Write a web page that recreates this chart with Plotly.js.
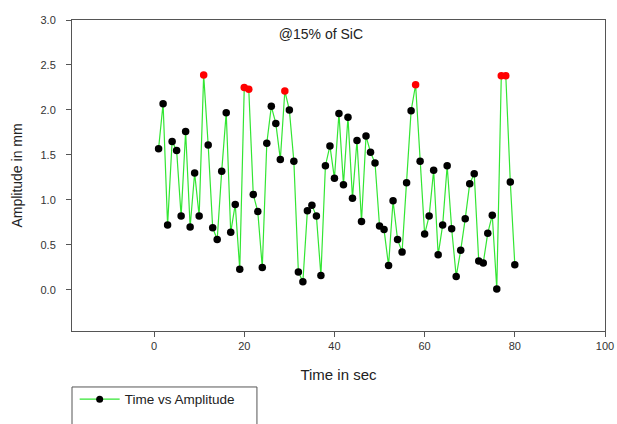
<!DOCTYPE html>
<html>
<head>
<meta charset="utf-8">
<script src="https://cdn.plot.ly/plotly-3.0.1.min.js"></script>
<style>html,body{margin:0;padding:0;background:#fff;}#chart{width:617px;height:424px;}</style>
</head>
<body>
<div id="chart"></div>
<script>
const timeSec = [1,2,3,4,5,6,7,8,9,10,11,12,13,14,15,16,17,18,19,20,21,22,23,24,25,26,27,28,29,30,31,32,33,34,35,36,37,38,39,40,41,42,43,44,45,46,47,48,49,50,51,52,53,54,55,56,57,58,59,60,61,62,63,64,65,66,67,68,69,70,71,72,73,74,75,76,77,78,79,80];
const amplitudeMm = [1.57,2.07,0.72,1.65,1.55,0.82,1.76,0.70,1.30,0.82,2.39,1.61,0.69,0.56,1.32,1.97,0.64,0.95,0.23,2.25,2.23,1.06,0.87,0.25,1.63,2.04,1.85,1.45,2.21,2.00,1.43,0.20,0.09,0.88,0.94,0.82,0.16,1.38,1.60,1.24,1.96,1.17,1.92,1.02,1.66,0.76,1.71,1.53,1.41,0.71,0.67,0.27,0.99,0.56,0.42,1.19,1.99,2.28,1.43,0.62,0.82,1.33,0.39,0.72,1.38,0.68,0.15,0.44,0.79,1.18,1.29,0.32,0.30,0.63,0.83,0.01,2.38,2.38,1.20,0.28];
const peakTimes = [11,20,21,29,58,77,78];
const xTicks = [0,20,40,60,80,100];
const yTicks = [0.0,0.5,1.0,1.5,2.0,2.5,3.0];
const seriesName = 'Time vs Amplitude';
const chartTitle = '@15% of SiC';

const markerColors = timeSec.map(t => peakTimes.includes(t) ? '#ff0000' : '#000000');

const trace = {
  x: timeSec, y: amplitudeMm, type: 'scatter', mode: 'lines+markers', name: seriesName,
  line: {color: '#33e633', width: 1.2},
  marker: {color: markerColors, size: 7.5, line: {width: 0}},
  showlegend: false
};
const legendTrace = {
  x: [null], y: [null], type: 'scatter', mode: 'lines+markers', name: seriesName,
  line: {color: '#33e633', width: 1.2},
  marker: {color: '#000000', size: 7}
};

const font = {family: 'Liberation Sans, Arial, sans-serif', color: '#222'};
const layout = {
  width: 617, height: 424,
  margin: {l: 72, r: 12, t: 20, b: 93, autoexpand: false},
  paper_bgcolor: '#fff', plot_bgcolor: '#fff',
  font: font,
  title: {text: chartTitle, x: 0.467, xref: 'paper', xanchor: 'center', y: 0.955, yref: 'paper', yanchor: 'middle',
          font: {size: 14, family: font.family, color: '#222'}},
  xaxis: {range: [-18.2, 100], tickvals: xTicks, ticks: 'outside', ticklen: 5, tickcolor: '#555',
          showline: true, mirror: true, linecolor: '#555', linewidth: 1, showgrid: false, zeroline: false,
          tickfont: {size: 11, color: '#333'},
          title: {text: 'Time in sec', font: {size: 15, color: '#222'}, standoff: 18}},
  yaxis: {range: [-0.457, 3.0], tickvals: yTicks, tickformat: '.1f', ticks: 'outside', ticklen: 5, tickcolor: '#555',
          ticklabelstandoff: 8,
          showline: true, mirror: true, linecolor: '#555', linewidth: 1, showgrid: false, zeroline: false,
          tickfont: {size: 11, color: '#333'},
          title: {text: 'Amplitude in mm', font: {size: 14, color: '#222'}, standoff: 14}},
  showlegend: true,
  legend: {x: 0.005, xanchor: 'left', y: -0.17, yanchor: 'top', orientation: 'v', itemwidth: 40,
           bgcolor: 'rgba(0,0,0,0)', borderwidth: 0, font: {size: 13.5, color: '#222'}},
  shapes: [{type: 'rect', xref: 'paper', yref: 'paper', x0: 0, x1: 0.347, y0: -0.18, y1: -0.33,
            line: {color: '#555', width: 1}, fillcolor: 'rgba(0,0,0,0)'}]
};
Plotly.newPlot('chart', [trace, legendTrace], layout, {displayModeBar: false, staticPlot: true});
</script>
</body>
</html>
